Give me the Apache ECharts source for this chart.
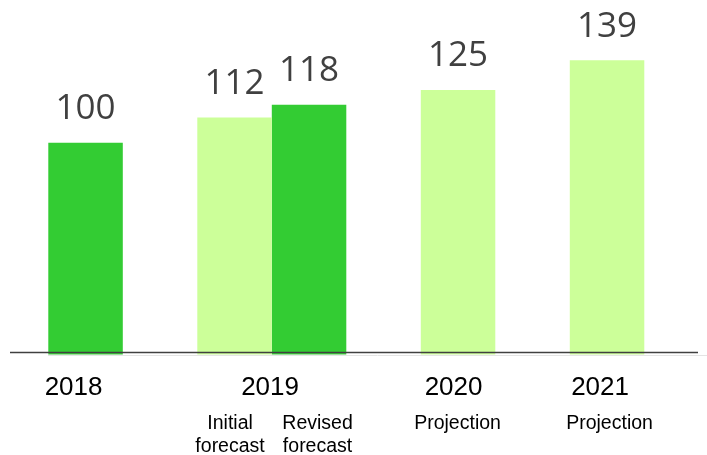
<!DOCTYPE html>
<html>
<head>
<meta charset="utf-8">
<script src="https://cdn.jsdelivr.net/npm/echarts@6/dist/echarts.min.js"></script>
<style>
  html, body { margin: 0; padding: 0; background: #ffffff; }
  #chart { width: 707px; height: 455px; }
</style>
</head>
<body>
<div id="chart"></div>
<script>
// Bar slots along the axis; empty slots leave the gaps between years.
const categories = ['2018', 'gapA', '2019 initial', '2019 revised', 'gapB', '2020', 'gapC', '2021'];
// Actual / revised figures (dark green)
const actualValues = [100, null, null, 118, null, null, null, null];
// Forecast and projection figures (light green)
const forecastValues = [null, null, 112, null, null, 125, null, 139];
// Axis labels per slot: year row and description rows
const yearLabels = ['2018', '', '2019', '', '', '2020', '', '2021'];
const subLabels = ['', '', 'Initial\nforecast', 'Revised\nforecast', '', 'Projection', '', 'Projection'];

// Small horizontal nudges for label placement, per slot: [year, description]
const yearShift = [-12, 0, 35.5, 0, 0, -4.5, 0, -7];
const subShift = [0, 0, -4.5, 8.5, 0, -0.5, 0, 2.5];

const DARK = '#33cc33';
const LIGHT = '#ccff99';

const rich = {};
categories.forEach(function (c, i) {
  const ys = yearShift[i] * 2, ss = subShift[i] * 2;
  rich['y' + i] = {
    fontFamily: '"Liberation Sans", Arial, sans-serif',
    fontSize: 26, color: '#000000', lineHeight: 50,
    padding: [0, ys < 0 ? -ys : 0, 0, ys > 0 ? ys : 0]
  };
  rich['s' + i] = {
    fontFamily: '"Liberation Sans", Arial, sans-serif',
    fontSize: 19.5, color: '#000000', lineHeight: 23,
    padding: [0, ss < 0 ? -ss : 0, 0, ss > 0 ? ss : 0]
  };
});

const chart = echarts.init(document.getElementById('chart'), null, { renderer: 'canvas' });

const labelStyle = {
  show: true,
  position: 'top',
  distance: 16,
  fontFamily: '"Open Sans", "Noto Sans", sans-serif',
  fontWeight: 400,
  fontSize: 35,
  color: '#404040'
};

chart.setOption({
  animation: false,
  grid: {
    left: 48.3, right: 62.7, top: 37, bottom: 100.5,
    containLabel: false,
    outerBoundsMode: 'none'
  },
  xAxis: {
    type: 'category',
    data: categories,
    axisLine: { show: false },
    axisTick: { show: false },
    axisLabel: {
      interval: 0,
      margin: 8,
      verticalAlign: 'top',
      formatter: function (value, index) {
        const parts = [];
        parts.push('{y' + index + '|' + (yearLabels[index] || ' ') + '}');
        if (subLabels[index]) {
          subLabels[index].split('\n').forEach(function (line) {
            parts.push('{s' + index + '|' + line + '}');
          });
        }
        return parts.join('\n');
      },
      rich: rich
    }
  },
  yAxis: {
    type: 'value',
    min: 0,
    max: 150,
    show: false
  },
  series: [
    {
      name: 'Actual',
      type: 'bar',
      data: actualValues,
      barGap: '-100%',
      barCategoryGap: '0%',
      itemStyle: { color: DARK },
      label: labelStyle
    },
    {
      name: 'Forecast',
      type: 'bar',
      data: forecastValues,
      barGap: '-100%',
      barCategoryGap: '0%',
      itemStyle: { color: LIGHT },
      label: labelStyle
    }
  ],
  graphic: [
    {
      type: 'line',
      shape: { x1: 48, y1: 355.5, x2: 707, y2: 355.5 },
      style: { stroke: '#e4e4e4', lineWidth: 1 },
      z: 5
    },
    {
      type: 'line',
      shape: { x1: 10, y1: 352.5, x2: 698, y2: 352.5 },
      style: { stroke: '#404040', lineWidth: 1.5 },
      z: 10
    }
  ]
});
</script>
</body>
</html>
